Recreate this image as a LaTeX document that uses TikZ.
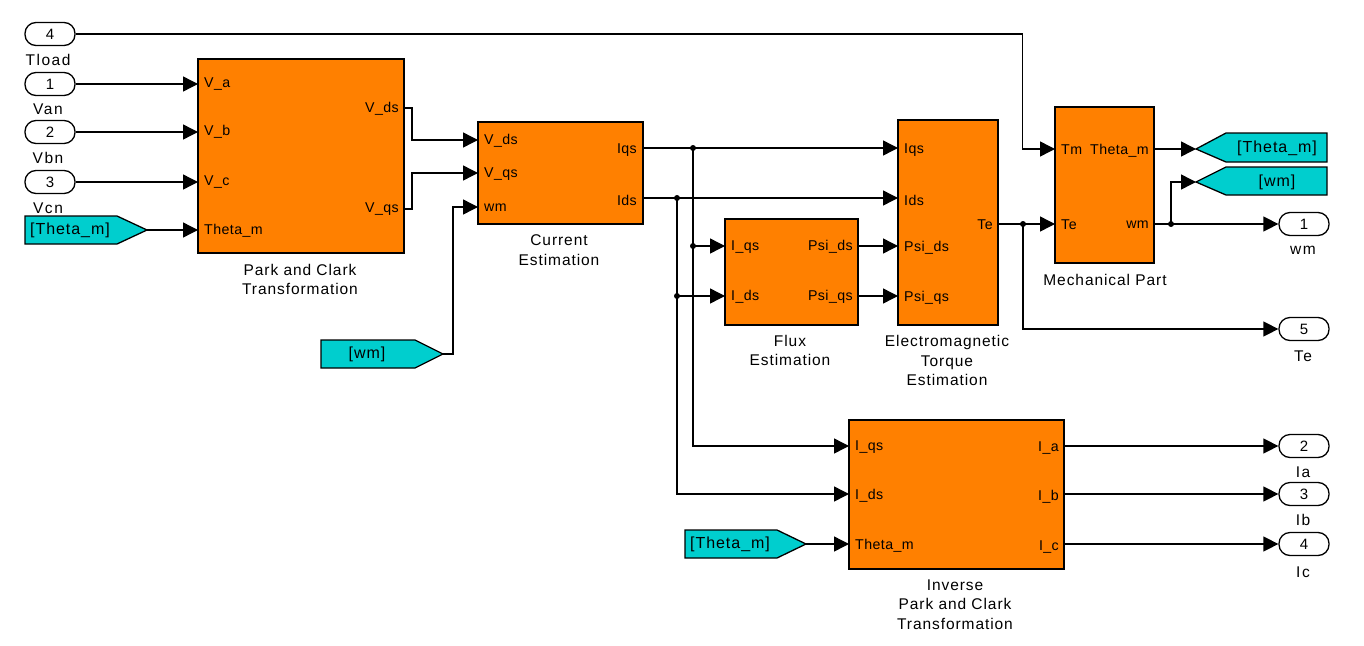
\documentclass[tikz,border=0pt]{standalone}
\usepackage{fontspec}
\setmainfont{Liberation Sans}
\newfontfamily\spacedA[LetterSpace=6]{Liberation Sans}
\newfontfamily\spacedB[LetterSpace=10]{Liberation Sans}
\newfontfamily\spacedC[LetterSpace=3]{Liberation Sans}
\usetikzlibrary{arrows.meta}
\definecolor{blkorange}{RGB}{255,128,0}
\definecolor{tagcyan}{RGB}{0,206,206}
\begin{document}
\begin{tikzpicture}[x=1pt,y=-1pt,
  blk/.style={draw=black, fill=blkorange, line width=1.3pt, inner sep=0pt},
  plab/.style={inner sep=0pt, font=\spacedC\fontsize{14.2}{16}\selectfont},
  tlab/.style={inner sep=0pt, align=center, font=\spacedA\fontsize{15.5}{19.5}\selectfont},
  olab/.style={inner sep=0pt, font=\spacedB\fontsize{15.5}{18}\selectfont},
  iport/.style={draw, fill=white, line width=1.3pt, rounded corners=11pt, minimum width=50pt, minimum height=23pt, inner sep=0pt, font=\fontsize{15}{17}\selectfont},
  wire/.style={line width=1.4pt},
  arr/.style={wire, -{Triangle[length=15pt,width=15pt]}},
  tag/.style={draw, fill=tagcyan, line width=1.3pt},
  tagtxt/.style={inner sep=0pt, font=\spacedA\fontsize{16}{18}\selectfont},
  dot/.style={circle, fill=black, inner sep=0pt, minimum size=6pt}
]
\useasboundingbox (0,0) rectangle (1364,645);

% ---------- input ports ----------
\node[iport] (p4) at (50,34) {4};
\node[olab] (l4) at (48,60) {Tload};
\node[iport] (p1) at (50,84) {1};
\node[olab] (l1) at (48,109) {Van};
\node[iport] (p2) at (50,132) {2};
\node[olab] (l2) at (48,158) {Vbn};
\node[iport] (p3) at (50,182) {3};
\node[olab] (l3) at (48,208) {Vcn};

% ---------- from tags ----------
\draw[tag] (25,216) -- (117,216) -- (147,230) -- (117,244) -- (25,244) -- cycle;
\node[tagtxt] (fth1) at (70,230) {[Theta\_m]};
\coordinate (fth1tip) at (147,230);

\draw[tag] (321,340) -- (415,340) -- (443,354) -- (415,368) -- (321,368) -- cycle;
\node[tagtxt] (fwm) at (367,354) {[wm]};
\coordinate (fwmtip) at (443,354);

\draw[tag] (685,530) -- (777,530) -- (806,544) -- (777,558) -- (685,558) -- cycle;
\node[tagtxt] (fth2) at (730,544) {[Theta\_m]};
\coordinate (fth2tip) at (806,544);

% ---------- goto tags ----------
\draw[tag] (1196,149) -- (1226,133) -- (1327,133) -- (1327,162) -- (1226,162) -- cycle;
\node[tagtxt] (gth) at (1277,148) {[Theta\_m]};
\coordinate (gthtip) at (1196,149);

\draw[tag] (1196,182) -- (1226,167) -- (1327,167) -- (1327,195) -- (1226,195) -- cycle;
\node[tagtxt] (gwm) at (1277,182) {[wm]};
\coordinate (gwmtip) at (1196,182);

% ---------- Park and Clark ----------
\node[blk, minimum width=206pt, minimum height=194pt] (park) at (301,156) {};
\node[plab, anchor=west] at (204,84) {V\_a};
\node[plab, anchor=west] at (204,132) {V\_b};
\node[plab, anchor=west] at (204,182) {V\_c};
\node[plab, anchor=west] at (204,231) {Theta\_m};
\node[plab, anchor=east] at (399,109) {V\_ds};
\node[plab, anchor=east] at (399,209) {V\_qs};
\node[tlab] at (300,279.5) {Park and Clark\\Transformation};
\coordinate (pk-a) at (198,84);
\coordinate (pk-b) at (198,132);
\coordinate (pk-c) at (198,182);
\coordinate (pk-th) at (198,230);
\coordinate (pk-ds) at (404,108);
\coordinate (pk-qs) at (404,209);

% ---------- Current Estimation ----------
\node[blk, minimum width=165pt, minimum height=102pt] (ce) at (560.5,173) {};
\node[plab, anchor=west] at (484,141) {V\_ds};
\node[plab, anchor=west] at (484,174) {V\_qs};
\node[plab, anchor=west] at (484,208) {wm};
\node[plab, anchor=east] at (637,150) {Iqs};
\node[plab, anchor=east] at (637,200) {Ids};
\node[tlab] at (559,250) {Current\\Estimation};
\coordinate (ce-ds) at (478,140);
\coordinate (ce-qs) at (478,173);
\coordinate (ce-wm) at (478,207);
\coordinate (ce-iq) at (643,148);
\coordinate (ce-id) at (643,198);

% ---------- Flux Estimation ----------
\node[blk, minimum width=133pt, minimum height=106pt] (fl) at (791.5,272) {};
\node[plab, anchor=west] at (731,247) {I\_qs};
\node[plab, anchor=west] at (731,297) {I\_ds};
\node[plab, anchor=east] at (853,247) {Psi\_ds};
\node[plab, anchor=east] at (853,297) {Psi\_qs};
\node[tlab] at (790,350.5) {Flux\\Estimation};
\coordinate (fl-iq) at (725,246);
\coordinate (fl-id) at (725,296);
\coordinate (fl-pd) at (858,246);
\coordinate (fl-pq) at (858,296);

% ---------- Electromagnetic Torque ----------
\node[blk, minimum width=100pt, minimum height=205pt] (te) at (948,222.5) {};
\node[plab, anchor=west] at (904,150) {Iqs};
\node[plab, anchor=west] at (904,200) {Ids};
\node[plab, anchor=west] at (904,248) {Psi\_ds};
\node[plab, anchor=west] at (904,298) {Psi\_qs};
\node[plab, anchor=east] at (993,225) {Te};
\node[tlab] at (947,360.5) {Electromagnetic\\Torque\\Estimation};
\coordinate (te-iq) at (898,148);
\coordinate (te-id) at (898,198);
\coordinate (te-pd) at (898,246);
\coordinate (te-pq) at (898,296);
\coordinate (te-out) at (998,224);

% ---------- Mechanical Part ----------
\node[blk, minimum width=99pt, minimum height=156pt] (mech) at (1104.5,185) {};
\node[plab, anchor=west] at (1061,150) {Tm};
\node[plab, anchor=west] at (1061,225) {Te};
\node[plab, anchor=east] at (1149,151) {Theta\_m};
\node[plab, anchor=east] at (1149,225) {wm};
\node[tlab] at (1105,280) {Mechanical Part};
\coordinate (m-tm) at (1055,149);
\coordinate (m-te) at (1055,224);
\coordinate (m-th) at (1154,149);
\coordinate (m-wm) at (1154,224);

% ---------- Inverse Park and Clark ----------
\node[blk, minimum width=215pt, minimum height=149pt] (inv) at (956.5,494.5) {};
\node[plab, anchor=west] at (855,447) {I\_qs};
\node[plab, anchor=west] at (855,496) {I\_ds};
\node[plab, anchor=west] at (855,546) {Theta\_m};
\node[plab, anchor=east] at (1059,448) {I\_a};
\node[plab, anchor=east] at (1059,497) {I\_b};
\node[plab, anchor=east] at (1059,547) {I\_c};
\node[tlab] at (955,604.5) {Inverse\\Park and Clark\\Transformation};
\coordinate (inv-iq) at (849,446);
\coordinate (inv-id) at (849,494);
\coordinate (inv-th) at (849,544);
\coordinate (inv-a) at (1064,446);
\coordinate (inv-b) at (1064,494);
\coordinate (inv-c) at (1064,544);

% ---------- output ports ----------
\node[iport] (o1) at (1304,224) {1};
\node[olab] at (1303,250) {wm};
\node[iport] (o5) at (1304,329) {5};
\node[olab] at (1303,356) {Te};
\node[iport] (o2) at (1304,446) {2};
\node[olab] at (1303,472) {Ia};
\node[iport] (o3) at (1304,494) {3};
\node[olab] at (1303,520) {Ib};
\node[iport] (o4) at (1304,544) {4};
\node[olab] at (1303,572) {Ic};

% ---------- junctions ----------
\node[dot] (jq) at (693,148) {};
\node[dot] (jq2) at (693,246) {};
\node[dot] (jd) at (677,198) {};
\node[dot] (jd2) at (677,296) {};
\node[dot] (jt) at (1023,224) {};
\node[dot] (jw) at (1171,224) {};

% ---------- wires ----------
\draw[arr] (p1.east) -- (pk-a);
\draw[arr] (p2.east) -- (pk-b);
\draw[arr] (p3.east) -- (pk-c);
\draw[arr] (fth1tip) -- (pk-th);
\draw[arr] (pk-ds) -- ++(8,0) |- (ce-ds);
\draw[arr] (pk-qs) -- ++(8,0) |- (ce-qs);
\draw[arr] (fwmtip) -- ++(10,0) |- (ce-wm);
\draw[arr] (ce-iq) -- (te-iq);
\draw[arr] (ce-id) -- (te-id);
\draw[arr] (jq.center) |- (inv-iq);
\draw[arr] (jq2.center) -- (fl-iq);
\draw[arr] (jd.center) |- (inv-id);
\draw[arr] (jd2.center) -- (fl-id);
\draw[arr] (fl-pd) -- (te-pd);
\draw[arr] (fl-pq) -- (te-pq);
\draw[arr] (te-out) -- (m-te);
\draw[arr] (jt.center) |- (o5.west);
\draw[arr] (p4.east) -- ++(947,0) |- (m-tm);
\draw[arr] (m-th) -- (gthtip);
\draw[arr] (m-wm) -- (o1.west);
\draw[arr] (jw.center) |- (gwmtip);
\draw[arr] (inv-a) -- (o2.west);
\draw[arr] (inv-b) -- (o3.west);
\draw[arr] (inv-c) -- (o4.west);
\draw[arr] (fth2tip) -- (inv-th);
\end{tikzpicture}
\end{document}
